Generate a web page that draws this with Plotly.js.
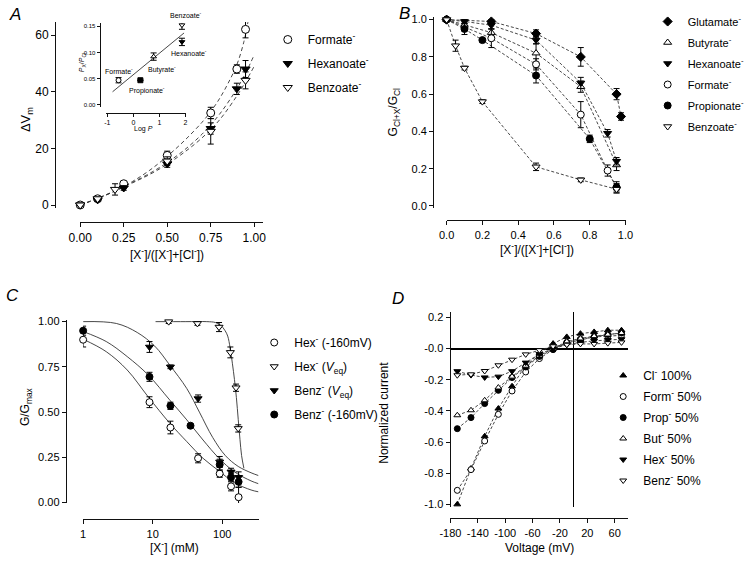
<!DOCTYPE html>
<html>
<head>
<meta charset="utf-8">
<script src="https://cdn.plot.ly/plotly-3.0.1.min.js"></script>
<style>
  html, body { margin: 0; padding: 0; background: #fff; }
  #chart { width: 750px; height: 570px; }
</style>
</head>
<body>
<div id="chart"></div>
<script>
// ---- panel A: membrane potential shift vs anion fraction ----
const aFormX = [0, 0.1, 0.25, 0.5, 0.75, 0.9, 0.95];
const aFormY = [0, 2.2, 7.5, 17.5, 32.5, 48, 62];
const aFormErr = [0.6, 0.6, 0.8, 1.5, 2, 1.5, 3];
const aHexX = [0, 0.1, 0.25, 0.5, 0.75, 0.9, 0.95];
const aHexY = [0, 1.8, 6, 14.5, 27, 41, 48];
const aHexErr = [0.5, 0.5, 0.8, 1.2, 2, 2, 3];
const aBenzX = [0, 0.1, 0.2, 0.5, 0.75, 0.95];
const aBenzY = [0, 2.2, 5.5, 15.5, 26, 44];
const aBenzErr = [0.5, 0.5, 2, 1.5, 4.5, 3];
const aFitFormX = [0, 0.1, 0.2, 0.3, 0.4, 0.5, 0.6, 0.7, 0.75, 0.8, 0.85, 0.9, 0.94, 0.965];
const aFitFormY = [0, 2.3, 5, 8.3, 12.3, 17.2, 22.8, 29.2, 33, 37.5, 43, 49.5, 57.5, 65];
const aFitX = [0, 0.1, 0.2, 0.3, 0.4, 0.5, 0.6, 0.7, 0.8, 0.9, 0.95, 1.0];
const aFitHexY = [0, 2.4, 5, 8, 11.2, 15, 19.5, 25, 32, 41, 46.5, 53];
const aFitBenzY = [0, 2.3, 4.9, 7.8, 10.8, 14.4, 18.7, 23.7, 30, 38.5, 43.5, 49];

// inset: permeability ratio vs log P
const inNames = ['Formate', 'Propionate', 'Butyrate', 'Hexanoate', 'Benzoate'];
const inLogP = [-0.57, 0.27, 0.78, 1.87, 1.87];
const inRatio = [0.047, 0.047, 0.092, 0.120, 0.152];
const inErr = [0.005, 0, 0.007, 0.007, 0.008];
const inFitX = [-0.8, 1.95];
const inFitY = [0.025, 0.137];

// ---- panel B: conductance ratio ----
const bGluX = [0, 0.25, 0.5, 0.75, 0.95, 0.975];
const bGluY = [1.0, 0.99, 0.925, 0.80, 0.60, 0.48];
const bGluErr = [0, 0.01, 0.02, 0.05, 0.03, 0.02];
const bButX = [0, 0.25, 0.5, 0.75, 0.95];
const bButY = [1.0, 0.93, 0.82, 0.64, 0.22];
const bButErr = [0, 0.02, 0.05, 0.03, 0.03];
const bHexX = [0, 0.1, 0.25, 0.5, 0.75, 0.9, 0.95];
const bHexY = [1.0, 0.99, 0.97, 0.89, 0.66, 0.39, 0.24];
const bHexErr = [0, 0.01, 0.02, 0.02, 0.03, 0.02, 0.02];
const bFormX = [0, 0.1, 0.25, 0.5, 0.75, 0.9, 0.95];
const bFormY = [1.0, 0.96, 0.90, 0.76, 0.49, 0.19, 0.10];
const bFormErr = [0, 0.02, 0.05, 0.03, 0.07, 0.03, 0.02];
const bPropX = [0, 0.1, 0.2, 0.5, 0.8, 0.95];
const bPropY = [1.0, 0.95, 0.89, 0.70, 0.36, 0.10];
const bPropErr = [0, 0.03, 0.01, 0.04, 0.02, 0.03];
const bBenzX = [0, 0.05, 0.1, 0.2, 0.5, 0.75, 0.95];
const bBenzY = [1.0, 0.86, 0.74, 0.56, 0.21, 0.14, 0.09];
const bBenzErr = [0, 0.03, 0.01, 0.01, 0.02, 0.01, 0.02];

// ---- panel C: dose response (mM) ----
const cHex160X = [1, 9, 18, 45, 92, 134, 172];
const cHex160Y = [0.90, 0.555, 0.415, 0.245, 0.16, 0.09, 0.03];
const cHex160Err = [0.04, 0.03, 0.035, 0.025, 0.02, 0.025, 0.055];
const cHexEqX = [17, 44, 90, 131, 158, 170];
const cHexEqY = [1.0, 0.99, 0.97, 0.83, 0.635, 0.41];
const cHexEqErr = [0.01, 0.01, 0.025, 0.03, 0.02, 0.02];
const cBenzEqX = [9, 18, 45, 92, 134, 172];
const cBenzEqY = [0.86, 0.75, 0.575, 0.225, 0.17, 0.14];
const cBenzEqErr = [0.03, 0.01, 0.02, 0.03, 0.02, 0.03];
const cBenz160X = [1, 9, 18, 35, 92, 134, 172];
const cBenz160Y = [0.95, 0.695, 0.535, 0.425, 0.21, 0.14, 0.115];
const cBenz160Err = [0.025, 0.025, 0.02, 0.01, 0.03, 0.02, 0.03];
const cFitHexEqX = [11, 30, 60, 80, 95, 110, 120, 130, 140, 150, 160, 170, 180, 190, 205];
const cFitHexEqY = [1.0, 1.0, 1.0, 0.995, 0.98, 0.95, 0.92, 0.855, 0.77, 0.68, 0.58, 0.46, 0.35, 0.26, 0.19];
const cFitBenzEqX = [1, 3, 6, 10.7, 17.6, 31, 47, 73, 111, 170, 260, 330];
const cFitBenzEqY = [1.0, 0.99, 0.94, 0.865, 0.76, 0.63, 0.5, 0.36, 0.26, 0.2, 0.165, 0.15];
const cFitX = [1, 2.15, 4.3, 8.6, 17.6, 31, 53, 90, 150, 260, 330];
const cFitBenz160Y = [0.945, 0.89, 0.807, 0.706, 0.567, 0.457, 0.346, 0.245, 0.17, 0.12, 0.105];
const cFitHex160Y = [0.903, 0.834, 0.733, 0.585, 0.439, 0.337, 0.245, 0.175, 0.11, 0.07, 0.06];

// ---- panel D: current-voltage ----
const dVolt = [-170, -150, -130, -110, -90, -70, -50, -30, -10, 10, 30, 50, 70];
const dCl = [-1.0, -0.77, -0.563, -0.385, -0.242, -0.107, -0.032, 0.032, 0.075, 0.096, 0.107, 0.118, 0.118];
const dForm = [-0.91, -0.777, -0.593, -0.422, -0.272, -0.15, -0.064, -0.006, 0.036, 0.058, 0.075, 0.08, 0.085];
const dProp = [-0.514, -0.443, -0.353, -0.268, -0.186, -0.118, -0.05, -0.005, 0.04, 0.06, 0.075, 0.09, 0.1];
const dBut = [-0.428, -0.396, -0.332, -0.25, -0.18, -0.11, -0.045, 0.0, 0.045, 0.065, 0.08, 0.09, 0.1];
const dHex = [-0.145, -0.17, -0.185, -0.18, -0.145, -0.09, -0.035, 0.0, 0.025, 0.04, 0.05, 0.055, 0.06];
const dBenz = [-0.171, -0.165, -0.144, -0.107, -0.071, -0.037, -0.01, 0.015, 0.025, 0.03, 0.03, 0.035, 0.04];
const dVoltTicks = [-180, -140, -100, -60, -20, 20, 60];

const W = 750, H = 570;
const FONT = 'Arial, "Liberation Sans", Helvetica, sans-serif';
function fx(p) { return p / W; }
function fy(p) { return 1 - p / H; }

function xAxis(left, right, line, range, more) {
    return Object.assign({
        domain: [fx(left), fx(right)], anchor: 'free', position: fy(line), range: range,
        showgrid: false, zeroline: false, showline: true, linecolor: '#111', linewidth: 1.3,
        ticks: 'outside', ticklen: 4, tickwidth: 1, tickcolor: '#111',
        tickfont: {size: 11, color: '#000'}, fixedrange: true
    }, more);
}
function yAxis(top, bottom, line, range, more) {
    return Object.assign({
        domain: [fy(bottom), fy(top)], anchor: 'free', position: fx(line), range: range,
        showgrid: false, zeroline: false, showline: true, linecolor: '#111', linewidth: 1.3,
        ticks: 'outside', ticklen: 4, tickwidth: 1, tickcolor: '#111',
        tickfont: {size: 11, color: '#000'}, fixedrange: true
    }, more);
}

function pts(x, y, err, xa, ya, symbol, filled, size, name, legend) {
    let t = {
        type: 'scatter', mode: 'markers', x: x, y: y, xaxis: xa, yaxis: ya,
        name: name, legend: legend || 'legend', legendgroup: (legend || 'none') + name, cliponaxis: false,
        showlegend: legend !== null,
        marker: {symbol: symbol, size: size, color: filled ? '#000' : '#fff', line: {color: '#000', width: 1}}
    };
    if (err) t.error_y = {type: 'data', array: err, visible: true, color: '#000', thickness: 1, width: 3};
    return t;
}
function curve(x, y, xa, ya, dash, shape) {
    return {
        type: 'scatter', mode: 'lines', x: x, y: y, xaxis: xa, yaxis: ya, showlegend: false,
        hoverinfo: 'skip', line: {color: '#333', width: 0.9, dash: dash, shape: shape, smoothing: 1}
    };
}

const sup = '<sup>-</sup>';
let data = [];

// A
data.push(curve(aFitFormX, aFitFormY, 'x', 'y', '4px,3px', 'spline'));
data.push(curve(aFitX, aFitHexY, 'x', 'y', '4px,3px', 'spline'));
data.push(curve(aFitX, aFitBenzY, 'x', 'y', '4px,3px', 'spline'));
data.push(pts(aFormX, aFormY, aFormErr, 'x', 'y', 'circle', false, 8, 'Formate' + sup, 'legend'));
data.push(pts(aHexX, aHexY, aHexErr, 'x', 'y', 'triangle-down', true, 8, 'Hexanoate' + sup, 'legend'));
data.push(pts(aBenzX, aBenzY, aBenzErr, 'x', 'y', 'triangle-down', false, 8, 'Benzoate' + sup, 'legend'));

// inset
const inStyle = {
    Formate: ['circle', false], Propionate: ['square', true], Butyrate: ['triangle-up', false],
    Hexanoate: ['triangle-down', true], Benzoate: ['triangle-down', false]
};
data.push(curve(inFitX, inFitY, 'x2', 'y2', 'solid', 'linear'));
inNames.forEach(function(n, i) {
    data.push(pts([inLogP[i]], [inRatio[i]], [inErr[i]], 'x2', 'y2', inStyle[n][0], inStyle[n][1], 5, n, null));
});

// B
const bSeries = [
    ['Glutamate', bGluX, bGluY, bGluErr, 'diamond', true],
    ['Butyrate', bButX, bButY, bButErr, 'triangle-up', false],
    ['Hexanoate', bHexX, bHexY, bHexErr, 'triangle-down', true],
    ['Formate', bFormX, bFormY, bFormErr, 'circle', false],
    ['Propionate', bPropX, bPropY, bPropErr, 'circle', true],
    ['Benzoate', bBenzX, bBenzY, bBenzErr, 'triangle-down', false]
];
bSeries.forEach(function(s) { data.push(curve(s[1], s[2], 'x3', 'y3', '3px,2px', 'linear')); });
bSeries.forEach(function(s) {
    data.push(pts(s[1], s[2], s[3], 'x3', 'y3', s[4], s[5], 7, s[0] + sup, 'legend2'));
});

// C
data.push(curve(cFitHexEqX, cFitHexEqY, 'x4', 'y4', 'solid', 'spline'));
data.push(curve(cFitBenzEqX, cFitBenzEqY, 'x4', 'y4', 'solid', 'spline'));
data.push(curve(cFitX, cFitBenz160Y, 'x4', 'y4', 'solid', 'spline'));
data.push(curve(cFitX, cFitHex160Y, 'x4', 'y4', 'solid', 'spline'));
data.push(pts(cHex160X, cHex160Y, cHex160Err, 'x4', 'y4', 'circle', false, 7, 'Hex' + sup + ' (-160mV)', 'legend3'));
data.push(pts(cHexEqX, cHexEqY, cHexEqErr, 'x4', 'y4', 'triangle-down', false, 7, 'Hex' + sup + ' (<i>V</i><sub>eq</sub>)', 'legend3'));
data.push(pts(cBenzEqX, cBenzEqY, cBenzEqErr, 'x4', 'y4', 'triangle-down', true, 7, 'Benz' + sup + ' (<i>V</i><sub>eq</sub>)', 'legend3'));
data.push(pts(cBenz160X, cBenz160Y, cBenz160Err, 'x4', 'y4', 'circle', true, 7, 'Benz' + sup + ' (-160mV)', 'legend3'));

// D
const dSeries = [
    ['Cl' + sup + ' 100%', dCl, 'triangle-up', true],
    ['Form' + sup + ' 50%', dForm, 'circle', false],
    ['Prop' + sup + ' 50%', dProp, 'circle', true],
    ['But' + sup + ' 50%', dBut, 'triangle-up', false],
    ['Hex' + sup + ' 50%', dHex, 'triangle-down', true],
    ['Benz' + sup + ' 50%', dBenz, 'triangle-down', false]
];
dSeries.forEach(function(s) { data.push(curve(dVolt, s[1], 'x5', 'y5', '3px,2px', 'linear')); });
dSeries.forEach(function(s) {
    data.push(pts(dVolt, s[1], null, 'x5', 'y5', s[2], s[3], 6, s[0], 'legend4'));
});

function label(text, x, y, size, more) {
    return Object.assign({
        text: text, xref: 'paper', yref: 'paper', x: fx(x), y: fy(y), showarrow: false,
        xanchor: 'center', yanchor: 'middle', font: {family: FONT, size: size, color: '#000'}
    }, more);
}

const legendBase = {xanchor: 'left', yanchor: 'top', bgcolor: 'rgba(0,0,0,0)', borderwidth: 0, itemclick: false, itemdoubleclick: false};

const layout = {
    width: W, height: H, margin: {l: 0, r: 0, t: 0, b: 0},
    paper_bgcolor: '#fff', plot_bgcolor: 'rgba(0,0,0,0)',
    font: {family: FONT, color: '#000'},
    showlegend: true, hovermode: false,
    legend: Object.assign({x: fx(277), y: fy(25), font: {size: 12}, tracegroupgap: 5}, legendBase),
    legend2: Object.assign({x: fx(670), y: fy(7), font: {size: 11}, tracegroupgap: 2}, legendBase),
    legend3: Object.assign({x: fx(263), y: fy(328), font: {size: 12}, tracegroupgap: 5}, legendBase),
    legend4: Object.assign({x: fx(624), y: fy(361), font: {size: 12}, tracegroupgap: 2}, legendBase),

    xaxis: xAxis(83, 272, 222, [0, 1.05], {tickvals: [0, 0.25, 0.5, 0.75, 1], tickformat: '.2f', tickfont: {size: 12}}),
    yaxis: yAxis(22, 208, 57, [-1.06, 64.6], {tickvals: [0, 20, 40, 60], tickfont: {size: 12}}),

    xaxis2: xAxis(110, 192, 113, [-1.04, 2.01], {tickvals: [-1, 0, 1, 2], ticktext: ['-1', '0', '1', '2'], ticklen: 3, linewidth: 1, tickfont: {size: 7}}),
    yaxis2: yAxis(23, 107, 103, [-0.004, 0.156], {tickvals: [0, 0.05, 0.1, 0.15], tickformat: '.2f', ticklen: 3, linewidth: 1, tickfont: {size: 6}}),

    xaxis3: xAxis(462, 648, 220, [0, 1.005], {dtick: 0.2, tickformat: '.1f'}),
    yaxis3: yAxis(17, 208, 448, [-0.011, 1.014], {dtick: 0.2, tickformat: '.1f'}),

    xaxis4: xAxis(86, 268, 519, [0, 2.53], {type: 'log', tickvals: [1, 10, 100], ticktext: ['1', '10', '100']}),
    yaxis4: yAxis(320, 503, 68, [-0.002, 1.009], {tickvals: [0, 0.25, 0.5, 0.75, 1], tickformat: '.2f'}),

    xaxis5: xAxis(466, 650, 518, [-180, 80], {tickvals: dVoltTicks, ticktext: dVoltTicks.map(String),
        zeroline: true, zerolinecolor: '#000', zerolinewidth: 1}),
    yaxis5: yAxis(312, 507, 465, [-1.017, 0.235], {tickvals: [-1, -0.8, -0.6, -0.4, -0.2, 0, 0.2],
        ticktext: ['-1.0', '-0.8', '-0.6', '-0.4', '-0.2', '-0.0', '0.2'],
        zeroline: true, zerolinecolor: '#000', zerolinewidth: 2}),

    annotations: [
        label('<i>A</i>', 15, 15, 17),
        label('<i>B</i>', 418, 14, 17),
        label('<i>C</i>', 13, 296, 17),
        label('<i>D</i>', 412, 298, 17),
        label('ΔV<sub>m</sub>', 27, 120, 13, {textangle: -90}),
        label('[X' + sup + ']/([X' + sup + ']+[Cl' + sup + '])', 173, 254, 12),
        label('<i>P</i><sub>X</sub>/<i>P</i><sub>Cl</sub>', 85, 63, 7, {textangle: -90}),
        label('Log <i>P</i>', 148, 129, 7),
        label('Formate' + sup, 123, 71, 7),
        label('Propionate' + sup, 152, 90, 7),
        label('Butyrate' + sup, 168, 70, 7),
        label('Hexanoate' + sup, 196, 53, 7),
        label('Benzoate' + sup, 192, 15, 7),
        label('G<sub>Cl+X</sub>/G<sub>Cl</sub>', 408, 112, 12, {textangle: -90}),
        label('[X' + sup + ']/([X' + sup + ']+[Cl' + sup + '])', 555, 249, 12),
        label('G/G<sub>max</sub>', 27, 407, 12, {textangle: -90}),
        label('[X' + sup + '] (mM)', 181, 547, 12),
        label('Normalized current', 397, 413, 12, {textangle: -90}),
        label('Voltage (mV)', 558, 548, 12)
    ]
};

Plotly.newPlot('chart', data, layout, {staticPlot: true, displayModeBar: false});
</script>
</body>
</html>
